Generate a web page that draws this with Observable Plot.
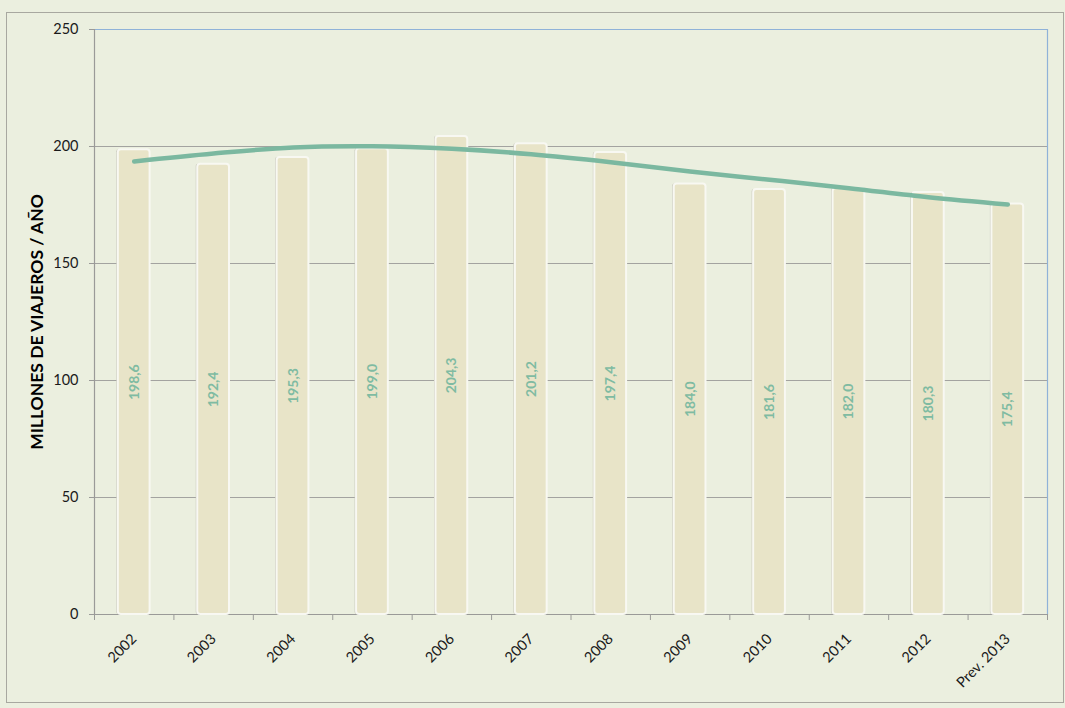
<!DOCTYPE html>
<html>
<head>
<meta charset="utf-8">
<script src="https://cdn.jsdelivr.net/npm/d3@7"></script>
<script src="https://cdn.jsdelivr.net/npm/@observablehq/plot@0.6"></script>
<style>
  html, body { margin: 0; padding: 0; background: #ebefdf; }
  #wrap { position: relative; width: 1065px; height: 708px; }
  #border { position: absolute; left: 6px; top: 12px; width: 1056px; height: 689px; border: 1px solid #a8a8a0; pointer-events: none; }
  svg { font-family: Lato, "Open Sans", sans-serif; }
</style>
</head>
<body>
<div id="wrap"><div id="border"></div></div>
<script>
const years = ["2002","2003","2004","2005","2006","2007","2008","2009","2010","2011","2012","Prev. 2013"];
const values = [198.6,192.4,195.3,199.0,204.3,201.2,197.4,184.0,181.6,182.0,180.3,175.4];
const trend = [193.6,197.0,199.6,200.1,199.0,196.7,193.3,189.3,185.8,182.2,178.3,175.2];
const yTicks = [0,50,100,150,200,250];
const gridTicks = [50,100,150,200];
const yLabel = "MILLONES DE VIAJEROS / AÑO";

const idx = years.map((d, i) => i);
const boundaries = d3.range(-0.5, years.length, 1);
const fmt = v => v.toFixed(1).replace(".", ",");

const chart = Plot.plot({
  width: 1065,
  height: 708,
  marginLeft: 94,
  marginRight: 18,
  marginTop: 29,
  marginBottom: 94,
  style: {background: "transparent", fontFamily: "Lato, 'Open Sans', sans-serif", overflow: "visible"},
  x: {domain: [-0.5, years.length - 0.5], axis: null},
  y: {domain: [0, 250], axis: null},
  marks: [
    Plot.gridY(gridTicks, {stroke: "#a3a3a0", strokeOpacity: 1, strokeWidth: 1}),
    Plot.ruleY([250], {stroke: "#8fb2d8", strokeWidth: 1.2}),
    Plot.frame({anchor: "right", stroke: "#8fb2d8", strokeWidth: 1.2}),
    Plot.frame({anchor: "left", stroke: "#9a9a98", strokeWidth: 1.2}),
    Plot.ruleY([0], {stroke: "#9a9a98", strokeWidth: 1.2}),
    Plot.axisY({ticks: yTicks, tickSize: 5, tickPadding: 11, fontSize: 14.5, tickFormat: d => d, color: "#1a1a1a", stroke: "#9a9a98"}),
    Plot.axisX({ticks: boundaries, tickSize: 6, tickFormat: () => "", stroke: "#9a9a98"}),
    Plot.rectY(idx, {x1: i => i - 0.2, x2: i => i + 0.2, y1: 0, y2: i => values[i], fill: "#c9c9bd", dx: -1.5, rx: 2}),
    Plot.rectY(idx, {x1: i => i - 0.2, x2: i => i + 0.2, y1: 0, y2: i => values[i], fill: "#e8e4c8", stroke: "#f8f8f2", strokeWidth: 2, rx: 3}),
    Plot.line(idx, {x: i => i, y: i => trend[i], curve: "catmull-rom", stroke: "#7bb8a0", strokeWidth: 4.5}),
    Plot.text(idx, {x: i => i, y: i => values[i] / 2, text: i => fmt(values[i]), rotate: -90, fill: "#7fbba2", fontSize: 14, fontWeight: "bold"}),
    Plot.text(idx, {x: i => i, y: 0, text: i => years[i], rotate: -45, textAnchor: "end", dy: 22, dx: 0, fontSize: 14.5, fill: "#1a1a1a"}),
    Plot.text([yLabel], {frameAnchor: "left", textAnchor: "middle", dx: -57, rotate: -90, fontSize: 17.5, fontWeight: "bold", fill: "#000"})
  ]
});
document.getElementById("wrap").appendChild(chart);
chart.style.position = "absolute";
chart.style.left = "0";
chart.style.top = "0";
</script>
</body>
</html>
